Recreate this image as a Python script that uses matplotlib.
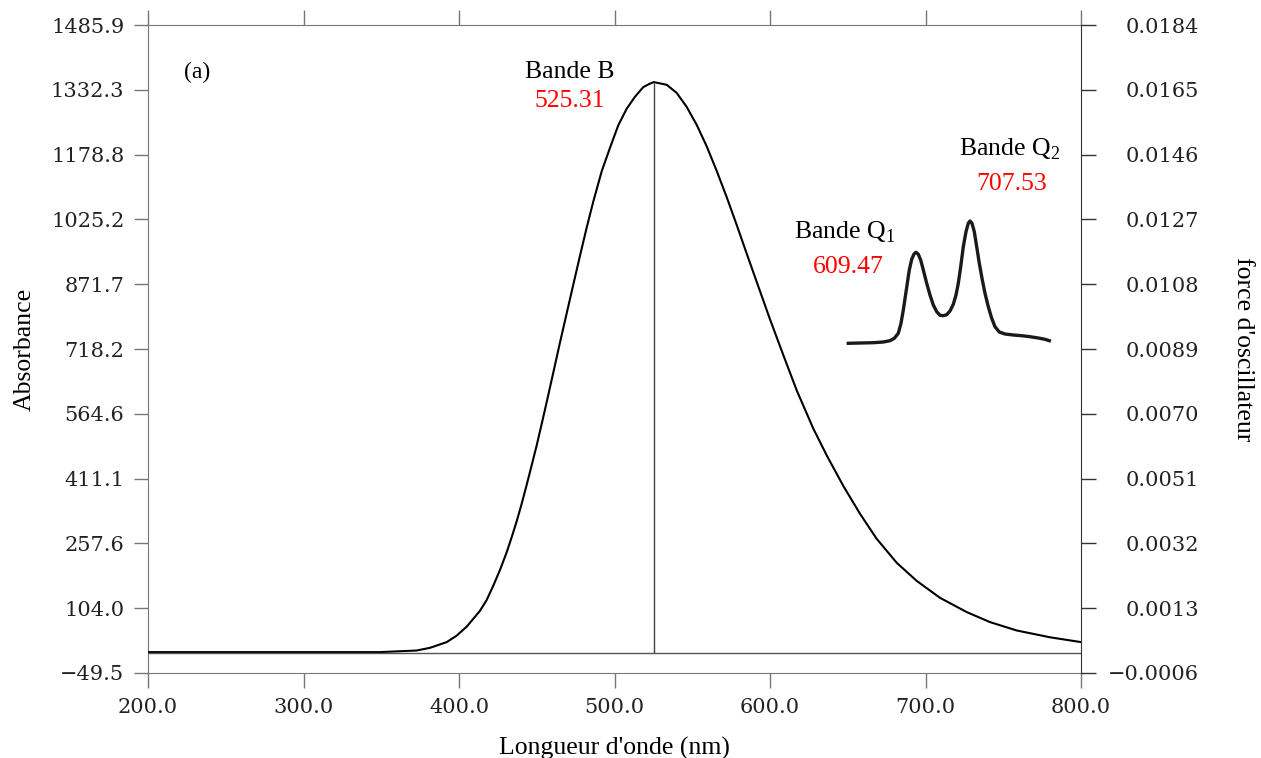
import numpy as np
import matplotlib
matplotlib.use('Agg')
import matplotlib.pyplot as plt
from matplotlib.ticker import FixedLocator

plt.rcParams['mathtext.fontset'] = 'custom'
plt.rcParams['mathtext.rm'] = 'Liberation Serif'

# spectre simule
wavelength = [200.0, 349.2, 372.8, 381.4, 392.1, 398.5, 405.0, 413.5, 417.8, 422.1,
              426.4, 430.7, 433.9, 437.1, 440.3, 443.5, 446.7, 450.0, 453.2, 456.4,
              459.6, 462.8, 464.9, 469.3, 473.5, 477.8, 482.1, 486.4, 491.8, 497.1,
              502.4, 507.8, 513.2, 518.5, 522.8, 525.3, 533.6, 540.0, 546.4, 552.9,
              559.3, 565.7, 572.2, 578.6, 585.0, 591.5, 600.0, 609.0, 617.2, 627.8,
              636.5, 647.1, 657.9, 668.6, 681.5, 694.3, 709.3, 726.5, 741.5, 758.7,
              780.1, 800.0]
absorbance = [0.0, 0.0, 3.8, 10.2, 23.7, 39.0, 60.5, 97.9, 123.5, 157.8,
              195.0, 236.9, 272.5, 310.0, 351.4, 396.0, 442.1, 490.5, 540.9, 592.6,
              645.2, 698.0, 732.9, 803.5, 870.8, 939.0, 1005.6, 1068.1, 1139.7, 1194.9,
              1248.0, 1287.3, 1316.0, 1338.7, 1347.0, 1350.6, 1344.2, 1325.0, 1292.0, 1249.0,
              1198.4, 1140.4, 1077.6, 1012.0, 944.4, 876.7, 788.5, 699.5, 620.0, 530.0,
              466.0, 394.0, 327.7, 268.5, 211.6, 168.9, 128.7, 94.8, 71.1, 51.2,
              35.1, 23.7]

# force d'oscillateur de la bande B
stick_wl = 525.31
stick_f = 0.0167

# encart experimental (unites arbitraires)
inset_pos = [3.3, 15.0, 28.3, 38.3, 45.0, 49.3, 53.3, 56.0, 58.3, 60.3, 62.3, 64.3, 66.7,
             69.0, 71.0, 73.3, 75.7, 78.3, 81.7, 85.0, 88.3, 91.7, 95.0, 98.3, 101.7,
             105.0, 108.3, 111.0, 113.3, 115.7, 118.3, 121.0, 123.3, 125.0, 127.0, 129.3,
             131.7, 134.3, 137.0, 140.0, 143.3, 146.7, 150.0, 154.3, 160.0, 168.3, 176.7,
             185.0, 193.3, 200.0, 204.3]
inset_sig = [6.7, 7.0, 7.3, 8.0, 9.3, 11.7, 16.7, 26.7, 40.0, 53.3, 66.7, 80.0, 90.7,
             96.0, 97.7, 95.7, 90.0, 80.0, 66.7, 55.0, 45.0, 38.3, 34.7, 34.3, 35.3,
             39.0, 45.7, 55.0, 66.7, 83.3, 103.3, 118.3, 126.7, 129.0, 126.7, 118.3,
             103.3, 86.7, 71.7, 56.7, 43.3, 31.7, 23.3, 18.0, 16.0, 15.0, 14.3,
             13.3, 12.0, 10.7, 9.3]

xticks = [200.0, 300.0, 400.0, 500.0, 600.0, 700.0, 800.0]
yticks_left = [-49.5, 104.0, 257.6, 411.1, 564.6, 718.2, 871.7, 1025.2, 1178.8, 1332.3, 1485.9]
yticks_right = [-0.0006, 0.0013, 0.0032, 0.0051, 0.0070, 0.0089, 0.0108, 0.0127,
                0.0146, 0.0165, 0.0184]

fig = plt.figure(figsize=(12.61, 7.58), dpi=100)
ax = fig.add_axes([148/1261, 1-673/758, 933/1261, 648/758])
ax2 = ax.twinx()

tickfont = dict(family='DejaVu Serif', size=15, color='#222222')
serif = 'Liberation Serif'

ax.plot(wavelength, absorbance, color='black', lw=1.5, zorder=3)
ax2.axhline(0, color='#555555', lw=1.0)
ax2.vlines(stick_wl, 0, stick_f, color='#444444', lw=1.0)

ax.set_xlim(200, 800)
ax.set_ylim(-49.5, 1485.9)
ax2.set_ylim(-0.0006, 0.0184)

ax.xaxis.set_major_locator(FixedLocator(xticks))
ax.set_xticklabels(['%.1f' % v for v in xticks], **tickfont)
ax.yaxis.set_major_locator(FixedLocator(yticks_left))
ax.set_yticklabels([('%.1f' % v).replace('-', '\u2212') for v in yticks_left], **tickfont)
ax2.yaxis.set_major_locator(FixedLocator(yticks_right))
ax2.set_yticklabels([('%.4f' % v).replace('-', '\u2212') for v in yticks_right],
                    ha='right', **tickfont)

ax.tick_params(axis='x', direction='out', length=11, width=1, color='#777777',
               pad=7, top=True)
ax.tick_params(axis='y', direction='out', length=10, width=1, color='#777777', pad=7)
ax2.tick_params(axis='y', direction='out', length=11, width=1, color='#333333', pad=74)

for sp in ['left', 'top', 'bottom']:
    ax.spines[sp].set_color('#777777')
    ax2.spines[sp].set_visible(False)
ax.spines['right'].set_visible(False)
ax2.spines['right'].set_color('#333333')

ax.set_xlabel("Longueur d'onde (nm)", family=serif, fontsize=18.5, labelpad=14)
ax.set_ylabel('Absorbance', family=serif, fontsize=18.5, labelpad=11)
ax2.set_ylabel("force d'oscillateur", family=serif, fontsize=18.5, rotation=-90,
               labelpad=24, va='bottom')

ax.text(223, 1374, '(a)', family=serif, fontsize=17, ha='left', va='center')
ax.text(471.4, 1374, 'Bande B', family=serif, fontsize=18.5, ha='center', va='center')
ax.text(471.4, 1306, '525.31', family=serif, fontsize=18.5, color='red',
        ha='center', va='center')
ax.text(754.3, 1192, 'Bande Q$_2$', family=serif, fontsize=18.5, ha='center', va='center')
ax.text(755.6, 1109, '707.53', family=serif, fontsize=18.5, color='red',
        ha='center', va='center')
ax.text(648.2, 995, 'Bande Q$_1$', family=serif, fontsize=18.5, ha='center', va='center')
ax.text(650.1, 912, '609.47', family=serif, fontsize=18.5, color='red',
        ha='center', va='center')

# encart (spectre experimental des bandes Q)
ins = fig.add_axes([845/1261, 1-350/758, 207/1261, 145/758])
ins.patch.set_visible(False)
ins.plot(inset_pos, inset_sig, color='#1a1a1a', lw=2.4)
ins.set_xlim(0, 207)
ins.set_ylim(0, 145)
ins.set_xticks([])
ins.set_yticks([])
for sp in ins.spines.values():
    sp.set_visible(False)

fig.savefig('out.png', dpi=100)
